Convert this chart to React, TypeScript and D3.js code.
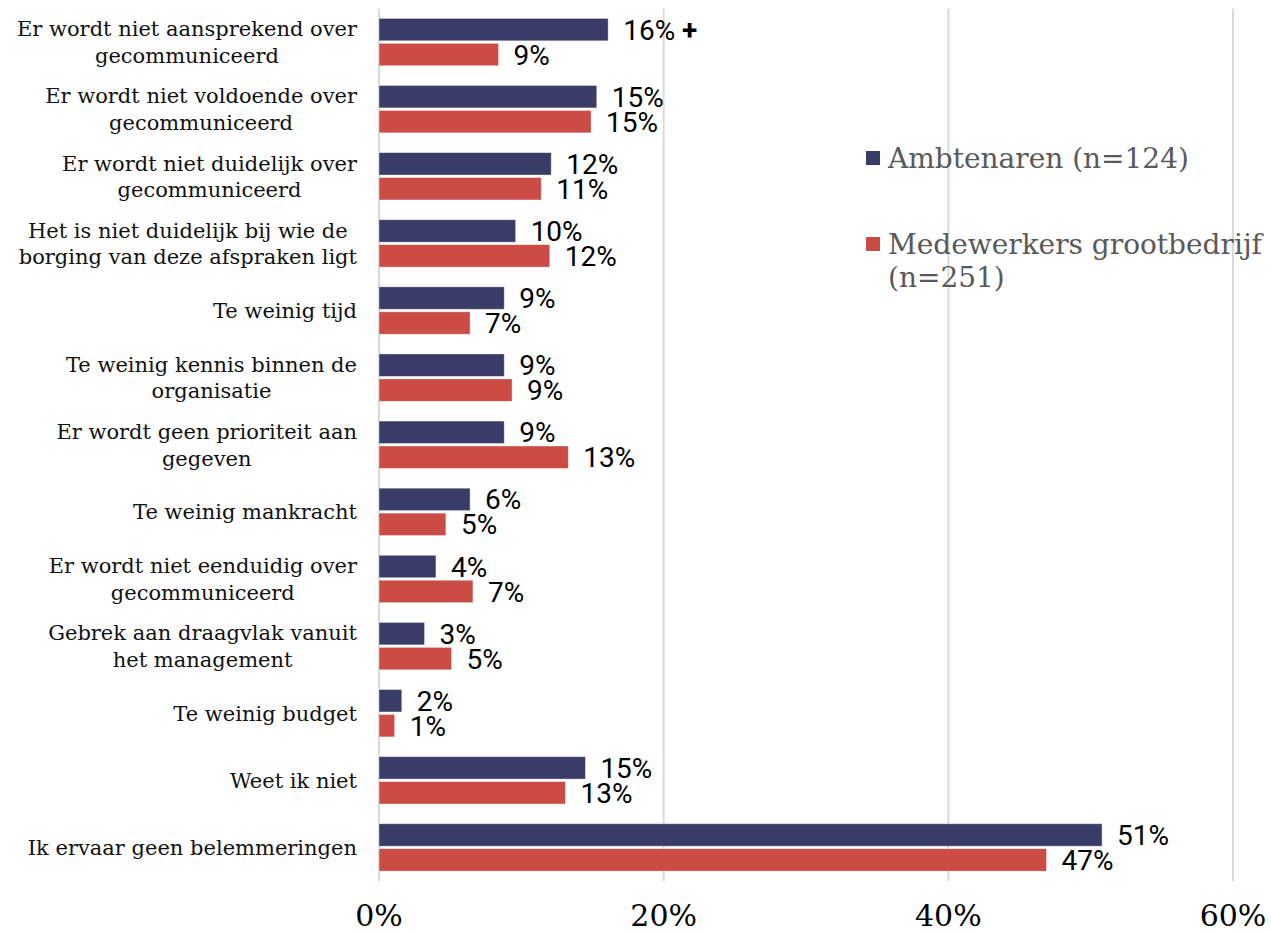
import React from 'react';
import * as d3 from 'd3';

// categories as they appear top to bottom, "\n" marks the line break
const categories = [
  'Er wordt niet aansprekend over\ngecommuniceerd',
  'Er wordt niet voldoende over\ngecommuniceerd',
  'Er wordt niet duidelijk over\ngecommuniceerd',
  'Het is niet duidelijk bij wie de\nborging van deze afspraken ligt',
  'Te weinig tijd',
  'Te weinig kennis binnen de\norganisatie',
  'Er wordt geen prioriteit aan\ngegeven',
  'Te weinig mankracht',
  'Er wordt niet eenduidig over\ngecommuniceerd',
  'Gebrek aan draagvlak vanuit\nhet management',
  'Te weinig budget',
  'Weet ik niet',
  'Ik ervaar geen belemmeringen',
];

const seriesNames = ['Ambtenaren (n=124)', 'Medewerkers grootbedrijf\n(n=251)'];

const ambtenaren = [16.1, 15.3, 12.1, 9.6, 8.8, 8.8, 8.8, 6.4, 4.0, 3.2, 1.6, 14.5, 50.8];
const ambtenarenLabels = ['16%', '15%', '12%', '10%', '9%', '9%', '9%', '6%', '4%', '3%', '2%', '15%', '51%'];

const medewerkers = [8.4, 14.9, 11.4, 12.0, 6.4, 9.35, 13.3, 4.7, 6.6, 5.1, 1.1, 13.1, 46.9];
const medewerkersLabels = ['9%', '15%', '11%', '12%', '7%', '9%', '13%', '5%', '7%', '5%', '1%', '13%', '47%'];

// significant difference marker after the label
const markers = ['+', '', '', '', '', '', '', '', '', '', '', '', ''];

const xTicks = [0, 20, 40, 60];

const colors = ['#393c67', '#cb4c44'];

const width = 1271;
const height = 933;

const labelFont = '"DejaVu Serif", serif';
const labelSize = 21;

let ctx: CanvasRenderingContext2D | null = null;
const measure = (t: string, font: string) => {
  if (!ctx) ctx = document.createElement('canvas').getContext('2d');
  if (!ctx) return t.length * 10;
  ctx.font = font;
  return ctx.measureText(t).width;
};

export default function App() {
  const x = d3.scaleLinear().domain([0, 60]).range([379, 1233]);

  const y = d3.scaleBand<string>()
    .domain(categories)
    .range([8.5, 881])
    .paddingInner(0.294)
    .paddingOuter(0.147);

  const inner = d3.scaleBand<number>()
    .domain([0, 1])
    .range([0, y.bandwidth()])
    .paddingInner(0.1);

  const series = [
    { values: ambtenaren, labels: ambtenarenLabels },
    { values: medewerkers, labels: medewerkersLabels },
  ];

  const gridTop = y.range()[0];
  const gridBottom = y.range()[1];
  const labelRight = 357;
  const lineH = 26.5;

  return (
    <svg width={width} height={height} style={{ position: 'absolute', left: 0, top: 0, background: '#fff' }}>
      {/* grid */}
      <g>
        {xTicks.map(t => (
          <line key={t} x1={x(t)} x2={x(t)} y1={gridTop} y2={gridBottom} stroke="#d9d9d9" strokeWidth={2} />
        ))}
      </g>

      {/* bars */}
      <g>
        {categories.map((c, i) => (
          <g key={c} transform={`translate(0,${y(c)})`}>
            {series.map((s, k) => (
              <rect
                key={k}
                x={x(0)}
                y={inner(k)}
                width={x(s.values[i]) - x(0)}
                height={inner.bandwidth()}
                fill={colors[k]}
                stroke="#fff"
                strokeOpacity={0.5}
                strokeWidth={0.8}
              />
            ))}
          </g>
        ))}
      </g>

      {/* value labels */}
      <g fontFamily="Roboto, sans-serif" fontSize={28} fill="#000">
        {categories.map((c, i) => (
          <g key={c} transform={`translate(0,${y(c)})`}>
            {series.map((s, k) => (
              <text
                key={k}
                x={x(s.values[i]) + 15}
                y={(inner(k) ?? 0) + inner.bandwidth() / 2}
                dy="0.36em"
              >
                {s.labels[i]}
                {k === 0 && markers[i] ? <tspan fontWeight="bold">{' ' + markers[i]}</tspan> : null}
              </text>
            ))}
          </g>
        ))}
      </g>

      {/* category labels */}
      <g fontFamily={labelFont} fontSize={labelSize} fill="#111">
        {categories.map(c => {
          const lines = c.split('\n');
          const maxW = d3.max(lines, l => measure(l, `${labelSize}px ${labelFont}`)) ?? 0;
          const cx = labelRight - maxW / 2;
          const cy = (y(c) ?? 0) + y.bandwidth() / 2;
          const y0 = cy - ((lines.length - 1) * lineH) / 2;
          return (
            <text key={c} textAnchor="middle">
              {lines.map((l, j) => (
                <tspan key={j} x={cx} y={y0 + j * lineH} dy="0.36em">{l}</tspan>
              ))}
            </text>
          );
        })}
      </g>

      {/* x axis labels */}
      <g fontFamily={labelFont} fontSize={30} fill="#000" textAnchor="middle">
        {xTicks.map(t => (
          <text key={t} x={x(t)} y={926}>{t + '%'}</text>
        ))}
      </g>

      {/* legend */}
      <g fontFamily={labelFont} fontSize={28} fill="#595959">
        {seriesNames.map((n, k) => {
          const ly = [158, 244][k];
          const lines = n.split('\n');
          return (
            <g key={n}>
              <rect x={866} y={ly - 7} width={14} height={14} fill={colors[k]} />
              <text x={888}>
                {lines.map((l, j) => (
                  <tspan key={j} x={888} y={ly + j * 33} dy="0.36em">{l}</tspan>
                ))}
              </text>
            </g>
          );
        })}
      </g>
    </svg>
  );
}
